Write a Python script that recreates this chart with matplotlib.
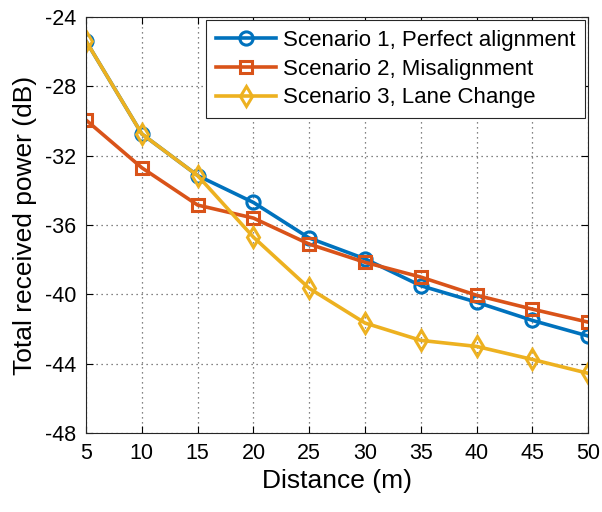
import matplotlib.pyplot as plt

distance = [5, 10, 15, 20, 25, 30, 35, 40, 45, 50]
scen1 = [-25.4, -30.75, -33.15, -34.7, -36.75, -37.95, -39.5, -40.45, -41.5, -42.4]
scen2 = [-29.95, -32.7, -34.85, -35.6, -37.1, -38.15, -39.0, -40.05, -40.85, -41.6]
scen3 = [-25.4, -30.75, -33.15, -36.7, -39.65, -41.65, -42.65, -43.0, -43.75, -44.55]
labels = ['Scenario 1, Perfect alignment', 'Scenario 2, Misalignment', 'Scenario 3, Lane Change']
yticks = [-48, -44, -40, -36, -32, -28, -24]

plt.rcParams['font.family'] = ['Liberation Sans', 'DejaVu Sans']
plt.rcParams['axes.unicode_minus'] = False

fig = plt.figure(figsize=(6.02, 5.12), dpi=100)
ax = fig.add_axes([0.143, 0.154, 0.834, 0.813])

ax.plot(distance, scen1, c='#0072BD', lw=2.6, marker='o', ms=9.5, mfc='none', mew=2.2, label=labels[0])
ax.plot(distance, scen2, c='#D95319', lw=2.6, marker='s', ms=8.5, mfc='none', mew=2.2, label=labels[1])
ax.plot(distance, scen3, c='#EDB120', lw=2.6, marker='d', ms=10.5, mfc='none', mew=2.2, label=labels[2])

ax.set_xlim(5, 50)
ax.set_ylim(-48, -24)
ax.set_xticks(distance)
ax.set_yticks(yticks)
ax.tick_params(direction='in', top=True, right=True, labelsize=15.5, length=5, pad=7)
ax.grid(True, ls=(0, (1, 3)), c='#333333', lw=0.9, alpha=0.8)
for s in ax.spines.values():
    s.set_color('#262626')
    s.set_linewidth(0.8)

ax.set_xlabel('Distance (m)', fontsize=19, labelpad=4)
ax.set_ylabel('Total received power (dB)', fontsize=19, labelpad=6)

leg = ax.legend(loc='upper right', fontsize=16, fancybox=False, edgecolor='#262626',
                framealpha=1, handlelength=2.7, borderpad=0.45, labelspacing=0.35,
                handletextpad=0.3, borderaxespad=0, bbox_to_anchor=(0.994, 0.993))
leg.get_frame().set_linewidth(0.8)

fig.savefig('out.png', dpi=100)
